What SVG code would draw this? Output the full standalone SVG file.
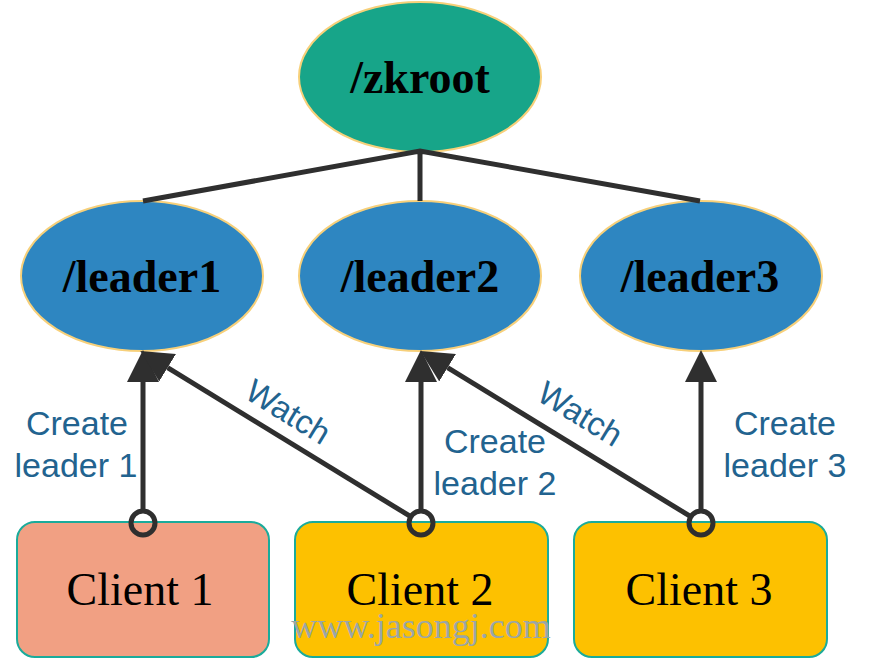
<svg xmlns="http://www.w3.org/2000/svg" width="872" height="668" viewBox="0 0 872 668">
<style>
.root{fill:#17A589;stroke:#F7D07A;stroke-width:2}
.leader{fill:#2E86C1;stroke:#F7D07A;stroke-width:2}
.ntxt{font-family:"Liberation Serif","Times New Roman",serif;font-weight:bold;font-size:46px;fill:#000;text-anchor:middle}
.client{stroke:#1AAB9B;stroke-width:2}
.ctxt{font-family:"Liberation Serif","Times New Roman",serif;font-size:46px;fill:#000;text-anchor:middle}
.lbl{font-family:"Liberation Sans",Arial,sans-serif;font-size:34px;fill:#22638F;text-anchor:middle}
.wlbl{font-family:"Liberation Sans",Arial,sans-serif;font-size:33px;fill:#22638F;text-anchor:middle}
.edge{stroke:#2F2F2F;stroke-width:5;fill:none}
.ring{stroke:#2F2F2F;stroke-width:5;fill:none}
.wm{font-family:"Liberation Serif","Times New Roman",serif;font-size:36px;fill:#9AA6A8;text-anchor:middle}
</style>
<defs>
<marker id="arr" markerUnits="userSpaceOnUse" markerWidth="32" markerHeight="32" viewBox="0 0 30 30" refX="0" refY="15" orient="auto">
<path d="M0,0 L30,15 L0,30 z" fill="#2F2F2F"/>
</marker>
</defs>
<rect width="872" height="668" fill="#fff"/>
<g id="zkroot">
<ellipse class="root" cx="420" cy="77" rx="121" ry="75"/>
<text class="ntxt" x="420" y="93">/zkroot</text>
</g>
<g id="leader1">
<ellipse class="leader" cx="142" cy="276" rx="121" ry="75"/>
<text class="ntxt" x="142" y="292">/leader1</text>
</g>
<g id="leader2">
<ellipse class="leader" cx="420" cy="276" rx="121" ry="75"/>
<text class="ntxt" x="420" y="292">/leader2</text>
</g>
<g id="leader3">
<ellipse class="leader" cx="701" cy="276" rx="121" ry="75"/>
<text class="ntxt" x="700" y="292">/leader3</text>
</g>
<g id="client1">
<rect class="client" x="17" y="522" width="252" height="135" rx="18" fill="#F1A083"/>
<text class="ctxt" x="140" y="605">Client 1</text>
</g>
<g id="client2">
<rect class="client" x="295" y="522" width="253" height="135" rx="18" fill="#FDC100"/>
<text class="ctxt" x="420" y="605">Client 2</text>
</g>
<g id="client3">
<rect class="client" x="574" y="522" width="253" height="135" rx="18" fill="#FDC100"/>
<text class="ctxt" x="699" y="605">Client 3</text>
</g>
<g id="connectors">
<path class="edge" d="M143,201 L420,151 L700,201 M420,151 L420,201"/>
<path class="edge" d="M143,511 L143,382" marker-end="url(#arr)"/>
<path class="edge" d="M421,511 L421,382" marker-end="url(#arr)"/>
<path class="edge" d="M701,511 L701,382" marker-end="url(#arr)"/>
<path class="edge" d="M410.8,516.7 L167.6,367.7" marker-end="url(#arr)"/>
<path class="edge" d="M690.8,516.7 L447.6,367.7" marker-end="url(#arr)"/>
<circle class="ring" cx="143" cy="523" r="12"/>
<circle class="ring" cx="421" cy="523" r="12"/>
<circle class="ring" cx="701" cy="523" r="12"/>
<text class="lbl" x="77" y="435">Create</text>
<text class="lbl" x="76" y="477">leader 1</text>
<text class="lbl" x="495" y="453">Create</text>
<text class="lbl" x="495" y="495">leader 2</text>
<text class="lbl" x="785" y="435">Create</text>
<text class="lbl" x="785" y="477">leader 3</text>
<text class="wlbl" transform="translate(288,412) rotate(31.5)" y="11">Watch</text>
<text class="wlbl" transform="translate(580,414) rotate(31.5)" y="11">Watch</text>
</g>
<text class="wm" x="421" y="638">www.jasongj.com</text>
</svg>
